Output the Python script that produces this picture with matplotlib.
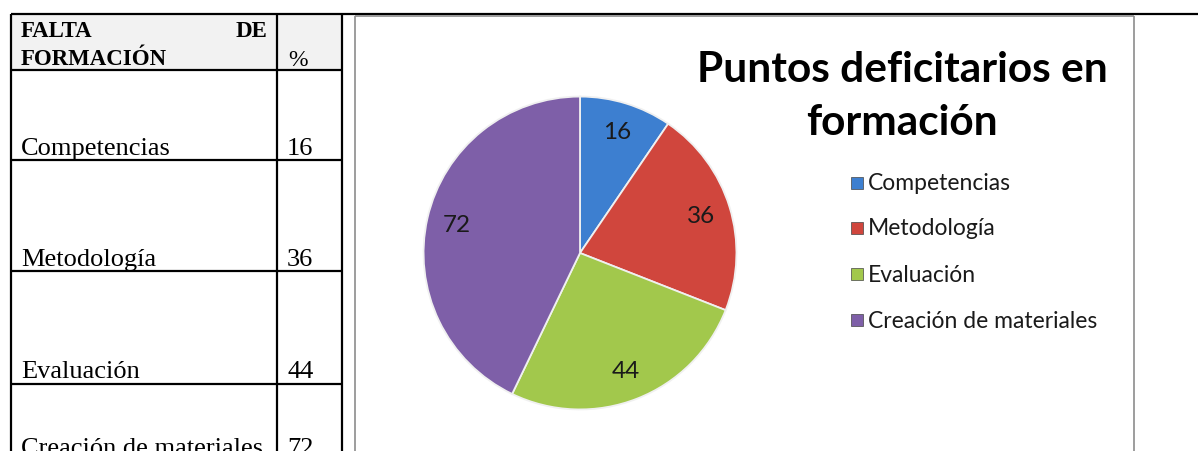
import matplotlib.pyplot as plt
from matplotlib.lines import Line2D
from matplotlib.patches import Rectangle

# --- datos ---
categorias = ['Competencias', 'Metodología', 'Evaluación', 'Creación de materiales']
valores = [16, 36, 44, 72]
colores = ['#3d7fd0', '#d0463d', '#a2c84c', '#7e5fa8']
titulo = ['Puntos deficitarios en', 'formación']

W, H = 1198, 452
fig = plt.figure(figsize=(W / 100, H / 100), dpi=100)
fig.patch.set_facecolor('white')


def fx(x):
    return x / W


def fy(y):
    return 1 - y / H


def linea(x0, y0, x1, y1, color='black', lw=1.6):
    fig.add_artist(Line2D([fx(x0), fx(x1)], [fy(y0), fy(y1)], color=color, lw=lw,
                          transform=fig.transFigure, solid_capstyle='butt'))


# --- tabla de la izquierda ---
fig.add_artist(Rectangle((fx(11), fy(71)), fx(342) - fx(11), fy(15) - fy(71),
                         transform=fig.transFigure, facecolor='#f2f2f2', edgecolor='none'))
linea(11, 15, W, 15)
for x in [11, 277, 342]:
    linea(x, 15, x, H + 5)
for y in [71, 161, 272, 385]:
    linea(11, y, 342, y)

serif = 'Liberation Serif'
fig.text(fx(21), fy(37), 'FALTA', family=serif, weight='bold', fontsize=16.5, va='baseline')
fig.text(fx(267), fy(37), 'DE', family=serif, weight='bold', fontsize=16.5, va='baseline', ha='right')
fig.text(fx(21), fy(65), 'FORMACIÓN', family=serif, weight='bold', fontsize=16.5, va='baseline')
fig.text(fx(288), fy(66), '%', family=serif, fontsize=17, va='baseline')

bases = [155, 266, 378, 455]
for cat, val, yb in zip(categorias, valores, bases):
    fig.text(fx(21), fy(yb), cat, family=serif, fontsize=19, va='baseline')
    fig.text(fx(287), fy(yb), str(val), family=serif, fontsize=19, va='baseline')

# --- marco del grafico ---
linea(355, 17, 355, H + 5, color='#8c8c8c', lw=1.2)
linea(1134, 17, 1134, H + 5, color='#8c8c8c', lw=1.2)
linea(355, 17, 1134, 17, color='#8c8c8c', lw=1.2)

# --- grafico circular ---
cx, cy, r = 580, 254, 158
ax = fig.add_axes([fx(cx - r), fy(cy + r), 2 * r / W, 2 * r / H])
total = sum(valores)
wedges, textos, autotextos = ax.pie(
    valores, colors=colores, startangle=90, counterclock=False,
    autopct=lambda p: '%d' % round(p * total / 100), pctdistance=0.81,
    wedgeprops=dict(edgecolor='#f0f0f0', linewidth=1.3),
    textprops=dict(family='Lato', fontsize=17.5, color='#1a1a1a'))
ax.set_xlim(-1.01, 1.01)
ax.set_ylim(-1.01, 1.01)
ax.set_aspect('equal')
ax.axis('off')

# --- titulo ---
for linea_t, yc in zip(titulo, [70, 123]):
    fig.text(fx(902), fy(yc), linea_t, family='Lato', weight='bold', fontsize=30.5,
             ha='center', va='center', color='#000000')

# --- leyenda ---
ley_y = [184, 229, 275, 321]
for cat, col, y in zip(categorias, colores, ley_y):
    fig.add_artist(Rectangle((fx(851), fy(y + 6)), 12 / W, 12 / H, transform=fig.transFigure,
                             facecolor=col, edgecolor='#444444', lw=0.5))
    fig.text(fx(868), fy(y), cat, family='Lato', fontsize=16.5, va='center', color='#1a1a1a')

fig.savefig('out.png', dpi=100)
